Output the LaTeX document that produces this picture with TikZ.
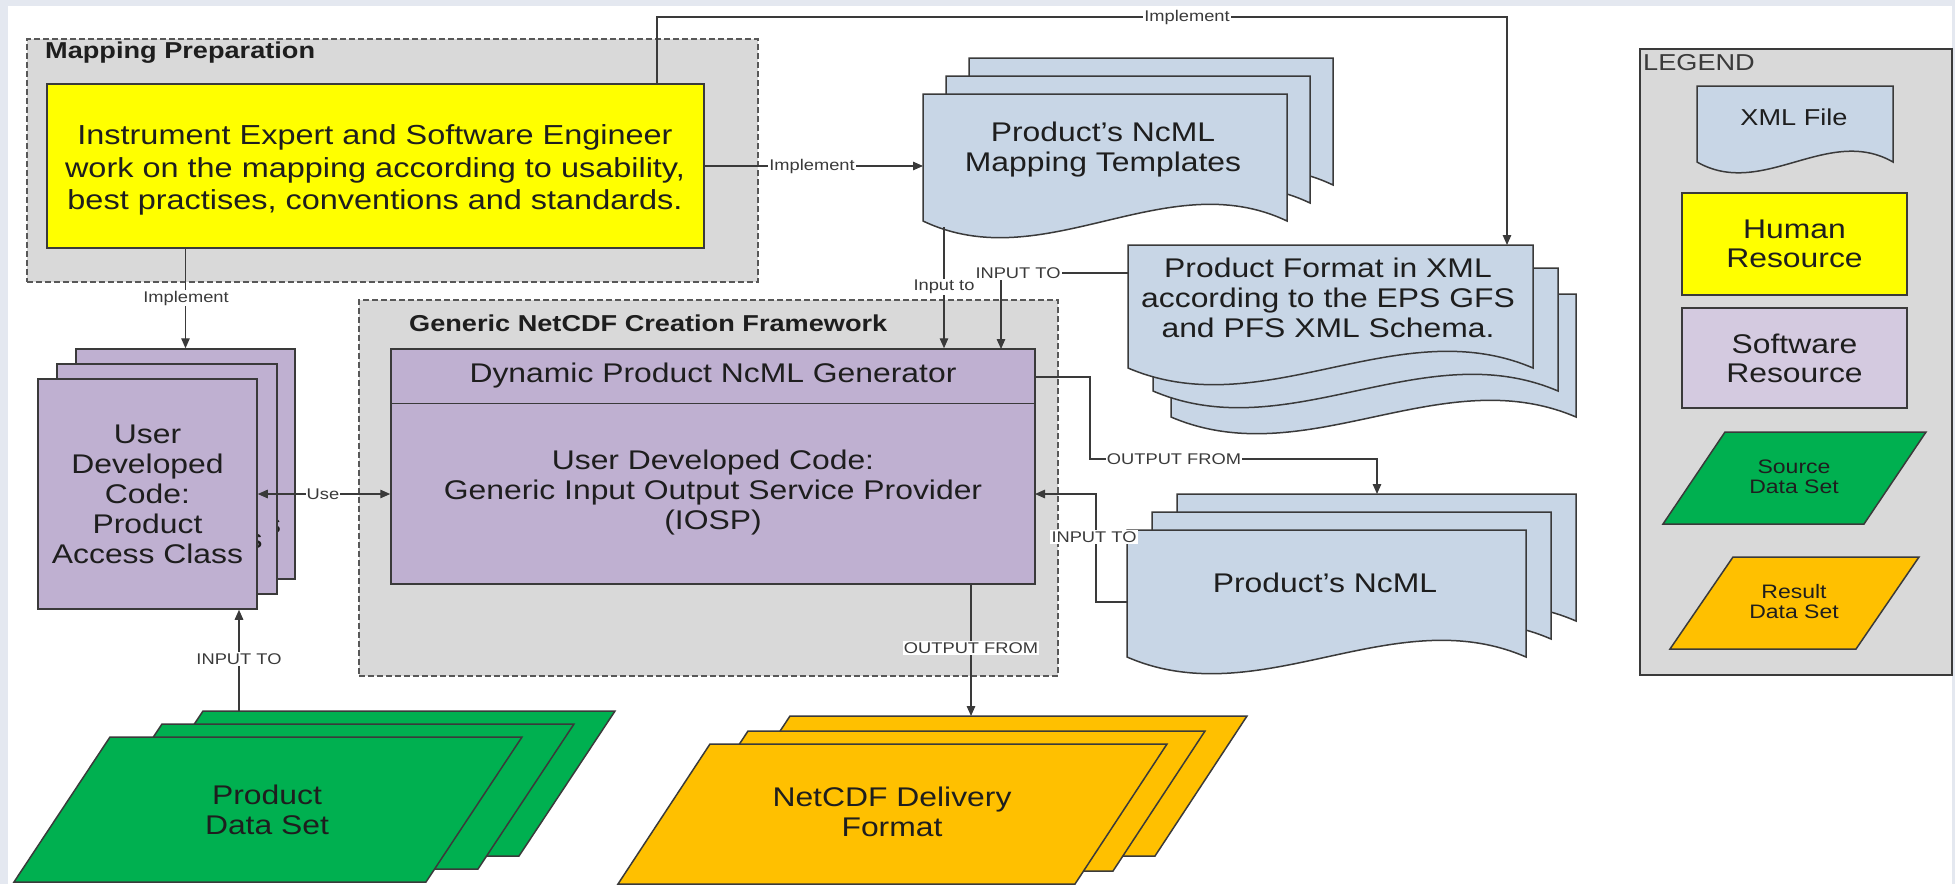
\documentclass[tikz,border=0pt]{standalone}
\usepackage{fontspec}
\setmainfont{Liberation Sans}[FakeStretch=1.18]
\usetikzlibrary{arrows.meta}
\definecolor{bggray}{HTML}{E4E8F0}
\definecolor{boxgray}{HTML}{D9D9D9}
\definecolor{hyellow}{HTML}{FFFF00}
\definecolor{swpurple}{HTML}{BFB0D1}
\definecolor{swlight}{HTML}{D4CAE0}
\definecolor{docblue}{HTML}{C8D6E6}
\definecolor{dsgreen}{HTML}{00B050}
\definecolor{dsorange}{HTML}{FFC000}
\definecolor{ln}{HTML}{3A3A3A}
\definecolor{txt}{HTML}{1E1E1E}
\tikzset{
  shp/.style={draw=ln, line width=1.5pt},
  cont/.style={draw=ln!85, line width=1.6pt, dash pattern=on 6pt off 3pt, fill=boxgray, inner sep=0pt},
  rbox/.style={shp, rectangle, inner sep=0pt, align=center, text=txt},
  conn/.style={draw=ln, line width=1.3pt},
  arr/.style={conn, -{Triangle[length=10pt,width=8.5pt]}},
  darr/.style={conn, {Triangle[length=10pt,width=8.5pt]}-{Triangle[length=10pt,width=8.5pt]}},
  lbl/.style={fill=white, inner sep=1.2pt, font=\fontsize{15.5}{17}\selectfont, text=ln},
  big/.style={font=\fontsize{27}{30}\selectfont, align=center, text=txt},
  ttl/.style={font=\bfseries\fontsize{23}{25}\selectfont, text=txt, anchor=west, inner sep=0pt},
  lgbig/.style={font=\fontsize{27}{29}\selectfont, align=center, text=txt},
  lgsmall/.style={font=\fontsize{19.5}{20}\selectfont, align=center, text=txt},
}
% document shape: x0 y0 x1 y1 amplitude fill
\newcommand\docshape[6]{%
  \filldraw[shp, fill=#6] (#1,#2) -- (#3,#2) -- (#3,#4)
    .. controls ({#3-(#3-#1)/3},{#4-3.4*#5}) and ({#1+(#3-#1)/3},{#4+3.4*#5}) .. (#1,#4) -- cycle;}
% parallelogram: x-top-left y-top width height slant fill
\newcommand\parashape[6]{%
  \filldraw[shp, fill=#6] (#1,#2) -- ({#1+#3},#2) -- ({#1+#3-#5},{#2+#4}) -- ({#1-#5},{#2+#4}) -- cycle;}
\begin{document}
\begin{tikzpicture}[x=1pt,y=-1pt]
\useasboundingbox (0,0) rectangle (1955,884);
\fill[bggray] (0,0) rectangle (1955,884);
\fill[white] (8,6) rectangle (1952,884);

% ---------- containers ----------
\node[cont, anchor=north west, minimum width=731pt, minimum height=243pt] (mapprep) at (26,38) {};
\node[ttl] (mptitle) at (45,53) {Mapping Preparation};
\node[cont, anchor=north west, minimum width=699pt, minimum height=376pt] (framework) at (358,299) {};
\node[ttl] (fwtitle) at (409,323) {Generic NetCDF Creation Framework};

% ---------- human resource ----------
\node[rbox, fill=hyellow, minimum width=657pt, minimum height=164pt] (human) at (375.5,166) {};
\node[font=\fontsize{27.5}{32.5}\selectfont, align=center, text=txt] (humantxt) at (375,170)
  {Instrument Expert and Software Engineer\\work on the mapping according to usability,\\best practises, conventions and standards.};

% ---------- mapping templates ----------
\docshape{969}{58}{1333}{185}{17}{docblue}
\docshape{946}{76}{1310}{203}{17}{docblue}
\docshape{923}{94}{1287}{221}{17}{docblue}
\node[big] (tmpl) at (1103,150) {Product’s NcML\\Mapping Templates};

% ---------- product format in XML ----------
\docshape{1171}{294}{1576}{417}{17}{docblue}
\docshape{1153}{268}{1558}{391}{17}{docblue}
\docshape{1128}{245}{1533}{368}{17}{docblue}
\node[big] (pfx) at (1328,298) {Product Format in XML\\according to the EPS GFS\\and PFS XML Schema.};

% ---------- product's NcML ----------
\docshape{1177}{494}{1576}{621}{17}{docblue}
\docshape{1152}{512}{1551}{639}{17}{docblue}
\docshape{1127}{530}{1526}{657}{17}{docblue}
\node[big] (ncml) at (1325,583) {Product’s NcML};

% ---------- generator ----------
\node[rbox, fill=swpurple, minimum width=644pt, minimum height=235pt] (gen) at (713,466.5) {};
\path (gen.north west) ++(0,55) coordinate (divL);
\draw[shp] (divL) -- (divL -| gen.east);
\node[big] (gentop) at (713,376) {Dynamic Product NcML Generator};
\node[big] (iosp) at (713,493) {User Developed Code:\\Generic Input Output Service Provider\\(IOSP)};

% ---------- user developed code stack ----------
\node[rbox, fill=swpurple, minimum width=219pt, minimum height=230pt, big] (udc3) at (185.5,464) {User\\Developed\\Code:\\Product\\Access Class};
\node[rbox, fill=swpurple, minimum width=220pt, minimum height=230pt, big] (udc2) at (167,479) {User\\Developed\\Code:\\Product\\Access Class};
\node[rbox, fill=swpurple, minimum width=219pt, minimum height=230pt, big] (udc1) at (147.5,494) {User\\Developed\\Code:\\Product\\Access Class};

% ---------- product data set ----------
\parashape{203}{711}{412}{145}{96}{dsgreen}
\parashape{162}{724}{412}{145}{96}{dsgreen}
\parashape{110}{737}{412}{145}{96}{dsgreen}
\node[big] (pds) at (267,810) {Product\\Data Set};

% ---------- NetCDF delivery ----------
\parashape{790}{716}{457}{140}{92}{dsorange}
\parashape{748}{731}{457}{140}{92}{dsorange}
\parashape{710}{744}{457}{140}{92}{dsorange}
\node[big] (ndf) at (892,812) {NetCDF Delivery\\Format};

% ---------- connector end points ----------
\coordinate (hTop) at (657,84);
\coordinate (pfTop) at (1507,245);
\coordinate (tmplL) at (923,166);
\coordinate (tmplB) at (944,227);
\coordinate (pfL) at (1128,273);
\coordinate (genIn2) at (1001,349);
\coordinate (genOut) at (1035,377);
\coordinate (ncmlTop) at (1377,494);
\coordinate (ncmlL) at (1127,602);
\coordinate (genIn3) at (1035,494);
\coordinate (ndfTop) at (971,716);
\coordinate (pdsTop) at (239,711);

% ---------- connectors ----------
\draw[arr] (hTop) -- (657,17) -| (pfTop);
\draw[arr] (human.east) -- (tmplL);
\draw[arr] (human.south -| udc3.north) -- (udc3.north);
\draw[arr] (tmplB) -- (gen.north -| tmplB);
\draw[arr] (pfL) -| (genIn2);
\draw[arr] (genOut) -- (1090,377) -- (1090,459) -| (ncmlTop);
\draw[arr] (ncmlL) -- (1096,602) |- (genIn3);
\draw[arr] (gen.south -| ndfTop) -- (ndfTop);
\draw[darr] (udc1.east) -- (gen.west |- udc1.east);
\draw[arr] (pdsTop) -- (udc1.south -| pdsTop);

% ---------- labels ----------
\node[lbl] at (1187,17) {Implement};
\node[lbl] at (812,166) {Implement};
\node[lbl] at (186,298) {Implement};
\node[lbl] at (944,287) {Input to};
\node[lbl] at (1018,273) {INPUT TO};
\node[lbl] at (1174,459) {OUTPUT FROM};
\node[lbl] at (1094,537) {INPUT TO};
\node[lbl] at (971,648) {OUTPUT FROM};
\node[lbl] at (323,494) {Use};
\node[lbl] at (239,659) {INPUT TO};

% ---------- legend ----------
\node[rbox, fill=boxgray, anchor=north west, minimum width=312pt, minimum height=626pt] (legend) at (1639,48) {};
\node[anchor=west, inner sep=0pt, font=\fontsize{23}{25}\selectfont, text=ln] (legtitle) at (1643,63) {LEGEND};
\docshape{1697}{86}{1893}{162}{11}{docblue}
\node[font=\fontsize{23}{25}\selectfont, text=txt] (lgxml) at (1794,117) {XML File};
\node[rbox, fill=hyellow, minimum width=225pt, minimum height=102pt, lgbig] (lghuman) at (1794.5,244) {Human\\Resource};
\node[rbox, fill=swlight, minimum width=225pt, minimum height=100pt, lgbig] (lgsw) at (1794.5,358) {Software\\Resource};
\parashape{1725}{432}{201}{92}{62}{dsgreen}
\node[lgsmall] (lgsrc) at (1794,477) {Source\\Data Set};
\parashape{1733}{557}{186}{92}{63}{dsorange}
\node[lgsmall] (lgres) at (1794,602) {Result\\Data Set};
\end{tikzpicture}
\end{document}
